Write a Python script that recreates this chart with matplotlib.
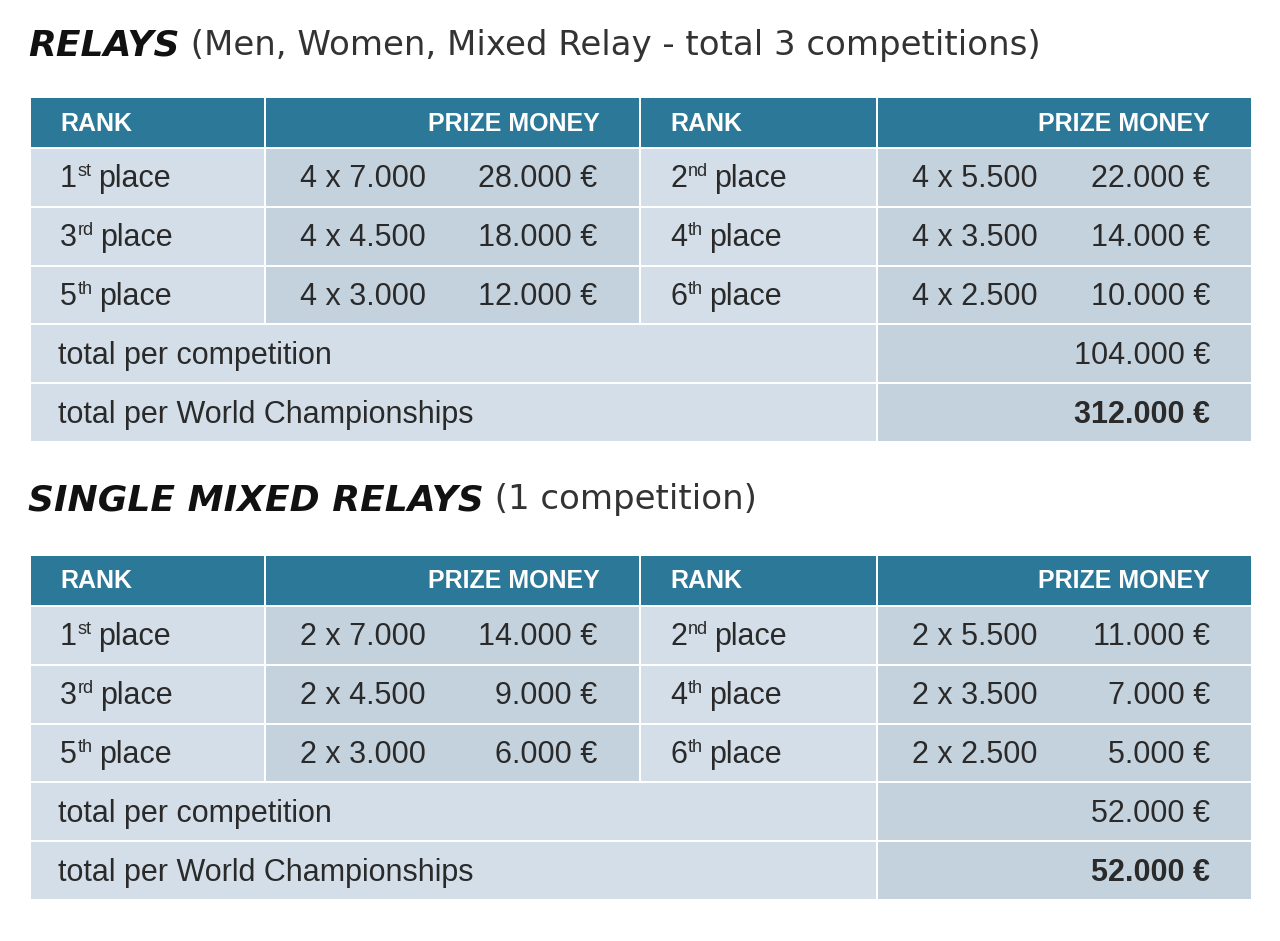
import matplotlib
matplotlib.use("Agg")
import matplotlib.pyplot as plt
from matplotlib.patches import Rectangle

# data
titles_bold = ["RELAYS", "SINGLE MIXED RELAYS"]
titles_rest = [" (Men, Women, Mixed Relay - total 3 competitions)", " (1 competition)"]
headers = ["RANK", "PRIZE MONEY", "RANK", "PRIZE MONEY"]
place_nums = [["1", "2"], ["3", "4"], ["5", "6"]]
place_sups = [["st", "nd"], ["rd", "th"], ["th", "th"]]
relay_mult = [["4 x 7.000", "4 x 5.500"], ["4 x 4.500", "4 x 3.500"], ["4 x 3.000", "4 x 2.500"]]
relay_amt = [["28.000 €", "22.000 €"], ["18.000 €", "14.000 €"], ["12.000 €", "10.000 €"]]
single_mult = [["2 x 7.000", "2 x 5.500"], ["2 x 4.500", "2 x 3.500"], ["2 x 3.000", "2 x 2.500"]]
single_amt = [["14.000 €", "11.000 €"], ["9.000 €", "7.000 €"], ["6.000 €", "5.000 €"]]
total_labels = ["total per competition", "total per World Championships"]
relay_totals = ["104.000 €", "312.000 €"]
single_totals = ["52.000 €", "52.000 €"]

HEAD = "#2b7898"
LIGHT = "#d3dee8"
DARK = "#c4d2de"
TXT = "#2a2a2a"
FONT = ["Liberation Sans Narrow", "Liberation Sans", "DejaVu Sans"]
FS = 22

fig = plt.figure(figsize=(12.8, 9.41), dpi=100)
ax = fig.add_axes([0, 0, 1, 1])
ax.set_xlim(0, 1280)
ax.set_ylim(941, 0)
ax.axis("off")

cols = [30, 265, 640, 877, 1252]
row_h = 58.8


def cell(x0, x1, y0, y1, color):
    ax.add_patch(Rectangle((x0 + 1, y0 + 1), x1 - x0 - 2, y1 - y0 - 2, color=color, lw=0))


def place_text(x, y, num, sup):
    t = ax.text(x, y, num, fontsize=FS, family=FONT, color=TXT, va="center")
    fig.canvas.draw()
    x2 = x + t.get_window_extent().width
    s = ax.text(x2 + 1, y - 8, sup, fontsize=13, family=FONT, color=TXT, va="center")
    fig.canvas.draw()
    x3 = x2 + 1 + s.get_window_extent().width
    ax.text(x3 + 6, y, "place", fontsize=FS, family=FONT, color=TXT, va="center")


def draw_table(title_y, top, mult, amt, totals, ti):
    t = ax.text(28, title_y, titles_bold[ti], fontsize=26, weight="bold", style="italic",
                family="DejaVu Sans", color="#111111", va="center")
    fig.canvas.draw()
    w = t.get_window_extent().width
    ax.text(28 + w, title_y, titles_rest[ti], fontsize=24.5, family="DejaVu Sans",
            color="#333333", va="center")
    hb = top + 51
    for c in range(4):
        cell(cols[c], cols[c + 1], top, hb, HEAD)
    hy = (top + hb) / 2 + 1
    ax.text(60, hy, headers[0], fontsize=18, weight="bold", color="white", family=FONT, va="center")
    ax.text(600, hy, headers[1], fontsize=18, weight="bold", color="white", family=FONT, va="center", ha="right")
    ax.text(670, hy, headers[2], fontsize=18, weight="bold", color="white", family=FONT, va="center")
    ax.text(1210, hy, headers[3], fontsize=18, weight="bold", color="white", family=FONT, va="center", ha="right")
    for r in range(3):
        y0 = hb + r * row_h
        y1 = y0 + row_h
        yc = (y0 + y1) / 2 + 2
        for side in range(2):
            c0 = side * 2
            cell(cols[c0], cols[c0 + 1], y0, y1, LIGHT)
            cell(cols[c0 + 1], cols[c0 + 2], y0, y1, DARK)
            place_text(cols[c0] + 30, yc, place_nums[r][side], place_sups[r][side])
            ax.text(cols[c0 + 1] + 35, yc, mult[r][side], fontsize=FS, family=FONT, color=TXT, va="center")
            amt_x = 597 if side == 0 else 1210
            ax.text(amt_x, yc, amt[r][side], fontsize=FS, family=FONT, color=TXT, va="center", ha="right")
    for k in range(2):
        y0 = hb + (3 + k) * row_h
        y1 = y0 + row_h
        yc = (y0 + y1) / 2 + 2
        cell(cols[0], cols[3], y0, y1, LIGHT)
        cell(cols[3], cols[4], y0, y1, DARK)
        ax.text(58, yc, total_labels[k], fontsize=FS, family=FONT, color=TXT, va="center")
        ax.text(1210, yc, totals[k], fontsize=FS, family=FONT, color=TXT, va="center", ha="right",
                weight="bold" if k == 1 else "normal")


draw_table(45, 97, relay_mult, relay_amt, relay_totals, 0)
draw_table(500, 555, single_mult, single_amt, single_totals, 1)

fig.savefig("out.png", dpi=100, facecolor="white")
